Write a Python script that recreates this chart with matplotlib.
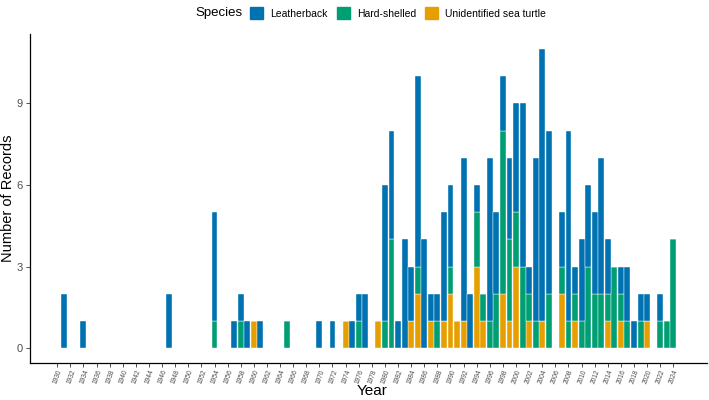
import matplotlib.pyplot as plt
import numpy as np

plt.rcParams["font.family"] = ["Liberation Sans", "DejaVu Sans"]

# records per year
years = [1931, 1934, 1947, 1954, 1957, 1958, 1959, 1960, 1961, 1965,
         1970, 1972, 1974, 1975, 1976, 1977, 1979, 1980, 1981, 1982,
         1983, 1984, 1985, 1986, 1987, 1988, 1989, 1990, 1991, 1992,
         1993, 1994, 1995, 1996, 1997, 1998, 1999, 2000, 2001, 2002,
         2003, 2004, 2005, 2007, 2008, 2009, 2010, 2011, 2012, 2013,
         2014, 2015, 2016, 2017, 2018, 2019, 2020, 2022, 2023, 2024]
unidentified = [0, 0, 0, 0, 0, 0, 0, 1, 0, 0,
                0, 0, 1, 0, 0, 0, 1, 0, 0, 0,
                0, 1, 2, 0, 1, 0, 1, 2, 1, 1,
                0, 3, 1, 0, 0, 2, 1, 3, 0, 1,
                0, 1, 0, 2, 0, 1, 0, 0, 0, 0,
                1, 0, 1, 0, 0, 0, 1, 0, 0, 0]
hard_shelled = [0, 0, 0, 1, 0, 1, 0, 0, 0, 1,
                0, 0, 0, 0, 1, 0, 0, 1, 4, 0,
                0, 0, 1, 0, 0, 1, 0, 1, 0, 0,
                0, 2, 1, 1, 2, 6, 3, 2, 3, 1,
                1, 0, 2, 1, 1, 1, 1, 3, 2, 2,
                1, 3, 1, 1, 0, 1, 0, 1, 1, 4]
leatherback = [2, 1, 2, 4, 1, 1, 1, 0, 1, 0,
               1, 1, 0, 1, 1, 2, 0, 5, 4, 1,
               4, 2, 7, 4, 1, 1, 4, 3, 0, 6,
               2, 1, 0, 6, 3, 2, 3, 4, 6, 1,
               6, 10, 6, 2, 7, 1, 3, 3, 3, 5,
               2, 0, 1, 2, 1, 1, 1, 1, 0, 0]

species = ["Leatherback", "Hard-shelled", "Unidentified sea turtle"]
colors = {"Leatherback": "#0072B2", "Hard-shelled": "#009E73",
          "Unidentified sea turtle": "#E69F00"}

years = np.array(years)
u = np.array(unidentified)
h = np.array(hard_shelled)
l = np.array(leatherback)

fig = plt.figure(figsize=(7.09, 4.0), dpi=100)
ax = fig.add_axes([0.0423, 0.092, 0.955, 0.823])

kw = dict(width=0.9, edgecolor="white", linewidth=0.3)
ax.bar(years, u, color=colors["Unidentified sea turtle"], **kw)
ax.bar(years, h, bottom=u, color=colors["Hard-shelled"], **kw)
ax.bar(years, l, bottom=u + h, color=colors["Leatherback"], **kw)

ax.set_xlim(1925.85, 2029.15)
ax.set_ylim(-0.55, 11.55)
ax.set_yticks([0, 3, 6, 9])
ax.set_xticks(np.arange(1930, 2025, 2))
ax.tick_params(axis="x", labelsize=4.8, labelcolor="#4D4D4D", length=3,
               width=0.6, color="#333333", labelrotation=70, pad=1)
for lab in ax.get_xticklabels():
    lab.set_ha("right")
    lab.set_va("top")
    lab.set_rotation_mode("anchor")
ax.tick_params(axis="y", labelsize=8, labelcolor="#4D4D4D", length=3,
               width=0.6, color="#333333", pad=2.5)

for side in ("top", "right"):
    ax.spines[side].set_visible(False)
for side in ("left", "bottom"):
    ax.spines[side].set_linewidth(0.9)
    ax.spines[side].set_color("black")

ax.set_xlabel("Year", fontsize=11)
ax.xaxis.set_label_coords(0.505, -0.085)
ax.xaxis.label.set_va("center")
ax.set_ylabel("Number of Records", fontsize=10.5)
ax.yaxis.set_label_coords(-0.032, 0.5)
ax.yaxis.label.set_va("center")

# legend on top, title to the left of the keys
fig.text(219 / 709, 1 - 13 / 400, "Species", fontsize=9.5,
         ha="center", va="center")
handles = [plt.Rectangle((0, 0), 1, 1, color=colors[s]) for s in species]
fig.legend(handles, species, loc="center left",
           bbox_to_anchor=(250 / 709, 1 - 13 / 400), ncol=3, frameon=False,
           fontsize=7.5, handlelength=1.25, handleheight=1.25,
           handletextpad=0.7, columnspacing=0.85, borderpad=0,
           borderaxespad=0)

fig.savefig("out.png", dpi=100)
